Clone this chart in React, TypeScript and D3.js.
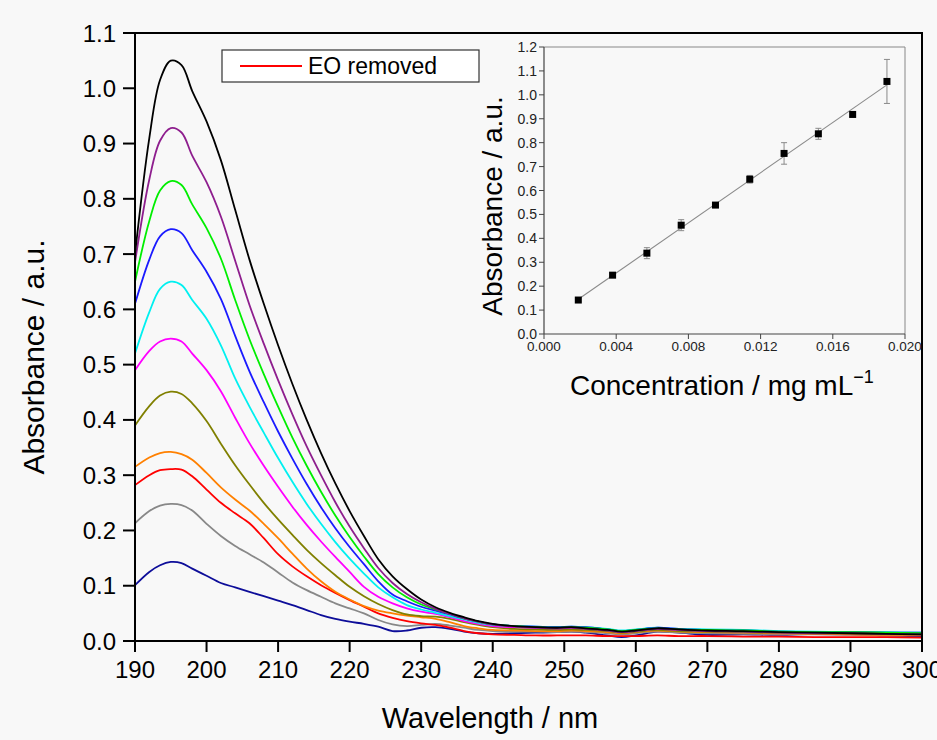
import React from "react";
import * as d3 from "d3";

// ---------- main spectra data ----------
const wavelengths = [190, 192, 193.5, 195, 196.5, 198, 200, 202, 204, 206, 208, 210, 212, 214, 216, 218, 220, 222, 224, 226, 228, 230, 232, 234, 236, 238, 240, 243, 246, 249, 251, 253, 256, 258, 260, 263, 266, 270, 275, 280, 285, 290, 295, 300];

const absBlack = [0.700, 0.910, 1.015, 1.050, 1.042, 0.995, 0.940, 0.870, 0.780, 0.690, 0.610, 0.535, 0.465, 0.400, 0.340, 0.285, 0.235, 0.190, 0.148, 0.117, 0.094, 0.075, 0.061, 0.051, 0.043, 0.036, 0.031, 0.027, 0.025, 0.024, 0.025, 0.023, 0.020, 0.017, 0.019, 0.023, 0.021, 0.019, 0.018, 0.016, 0.015, 0.014, 0.013, 0.012];
const absPurple = [0.685, 0.835, 0.905, 0.928, 0.920, 0.878, 0.830, 0.768, 0.688, 0.608, 0.538, 0.472, 0.410, 0.352, 0.300, 0.251, 0.207, 0.168, 0.132, 0.105, 0.085, 0.070, 0.058, 0.049, 0.041, 0.035, 0.030, 0.026, 0.024, 0.023, 0.024, 0.022, 0.019, 0.016, 0.018, 0.022, 0.020, 0.018, 0.017, 0.015, 0.014, 0.014, 0.013, 0.012];
const absGreen = [0.650, 0.760, 0.815, 0.832, 0.825, 0.790, 0.747, 0.692, 0.617, 0.546, 0.483, 0.424, 0.368, 0.317, 0.270, 0.227, 0.188, 0.153, 0.121, 0.097, 0.079, 0.066, 0.057, 0.049, 0.041, 0.035, 0.030, 0.027, 0.025, 0.024, 0.025, 0.024, 0.021, 0.018, 0.020, 0.023, 0.021, 0.020, 0.019, 0.017, 0.016, 0.016, 0.015, 0.014];
const absBlue = [0.610, 0.690, 0.732, 0.745, 0.738, 0.707, 0.668, 0.619, 0.552, 0.488, 0.432, 0.379, 0.330, 0.284, 0.242, 0.204, 0.170, 0.139, 0.108, 0.084, 0.072, 0.062, 0.055, 0.048, 0.041, 0.035, 0.030, 0.027, 0.026, 0.025, 0.026, 0.025, 0.021, 0.018, 0.020, 0.024, 0.022, 0.020, 0.019, 0.017, 0.016, 0.016, 0.015, 0.015];
const absCyan = [0.520, 0.595, 0.637, 0.650, 0.644, 0.617, 0.583, 0.535, 0.475, 0.424, 0.377, 0.331, 0.288, 0.248, 0.212, 0.179, 0.149, 0.122, 0.097, 0.079, 0.065, 0.057, 0.051, 0.045, 0.039, 0.033, 0.029, 0.027, 0.026, 0.025, 0.026, 0.025, 0.022, 0.019, 0.021, 0.024, 0.022, 0.021, 0.020, 0.018, 0.017, 0.016, 0.016, 0.015];
const absMagenta = [0.490, 0.525, 0.542, 0.547, 0.542, 0.520, 0.490, 0.452, 0.404, 0.358, 0.317, 0.279, 0.243, 0.210, 0.180, 0.152, 0.125, 0.098, 0.080, 0.068, 0.059, 0.053, 0.049, 0.043, 0.036, 0.031, 0.027, 0.025, 0.024, 0.023, 0.024, 0.023, 0.020, 0.017, 0.019, 0.022, 0.020, 0.019, 0.018, 0.016, 0.015, 0.015, 0.014, 0.014];
const absOlive = [0.390, 0.425, 0.444, 0.451, 0.447, 0.430, 0.398, 0.357, 0.318, 0.283, 0.250, 0.220, 0.192, 0.165, 0.141, 0.119, 0.098, 0.081, 0.067, 0.056, 0.048, 0.045, 0.044, 0.040, 0.034, 0.029, 0.025, 0.022, 0.021, 0.020, 0.021, 0.020, 0.018, 0.015, 0.017, 0.020, 0.018, 0.017, 0.016, 0.015, 0.014, 0.014, 0.013, 0.013];
const absOrange = [0.315, 0.332, 0.340, 0.342, 0.338, 0.328, 0.304, 0.278, 0.256, 0.236, 0.212, 0.186, 0.158, 0.131, 0.108, 0.089, 0.075, 0.063, 0.055, 0.050, 0.046, 0.043, 0.040, 0.034, 0.027, 0.023, 0.020, 0.019, 0.018, 0.018, 0.019, 0.018, 0.016, 0.014, 0.016, 0.019, 0.017, 0.016, 0.015, 0.014, 0.013, 0.012, 0.011, 0.011];
const absRed = [0.282, 0.300, 0.309, 0.311, 0.310, 0.298, 0.274, 0.250, 0.231, 0.213, 0.186, 0.157, 0.135, 0.117, 0.101, 0.087, 0.074, 0.062, 0.050, 0.042, 0.036, 0.032, 0.029, 0.024, 0.018, 0.014, 0.012, 0.011, 0.010, 0.010, 0.010, 0.010, 0.009, 0.009, 0.009, 0.010, 0.009, 0.009, 0.008, 0.008, 0.007, 0.007, 0.007, 0.006];
const absGray = [0.213, 0.235, 0.245, 0.248, 0.246, 0.236, 0.212, 0.190, 0.172, 0.157, 0.142, 0.124, 0.106, 0.092, 0.080, 0.068, 0.059, 0.050, 0.038, 0.030, 0.027, 0.029, 0.031, 0.028, 0.024, 0.020, 0.018, 0.017, 0.017, 0.016, 0.017, 0.016, 0.014, 0.012, 0.014, 0.017, 0.015, 0.014, 0.013, 0.012, 0.012, 0.011, 0.010, 0.010];
const absNavy = [0.101, 0.125, 0.137, 0.143, 0.141, 0.131, 0.118, 0.105, 0.097, 0.089, 0.081, 0.073, 0.065, 0.056, 0.047, 0.040, 0.035, 0.031, 0.026, 0.018, 0.019, 0.024, 0.025, 0.022, 0.017, 0.014, 0.013, 0.014, 0.015, 0.016, 0.017, 0.015, 0.010, 0.007, 0.010, 0.017, 0.015, 0.011, 0.012, 0.011, 0.013, 0.013, 0.010, 0.008];

const seriesList = [
  { name: "s10", color: "#000000", values: absBlack },
  { name: "s9", color: "#8e1e8e", values: absPurple },
  { name: "s8", color: "#00ee00", values: absGreen },
  { name: "s7", color: "#1a1aff", values: absBlue },
  { name: "s6", color: "#00f0f0", values: absCyan },
  { name: "s5", color: "#ff00ff", values: absMagenta },
  { name: "s4", color: "#808000", values: absOlive },
  { name: "s3", color: "#ff8000", values: absOrange },
  { name: "EO removed", color: "#ff0000", values: absRed },
  { name: "s2", color: "#888888", values: absGray },
  { name: "s1", color: "#0d0d99", values: absNavy },
];

const xTicks = [190, 200, 210, 220, 230, 240, 250, 260, 270, 280, 290, 300];
const yTicks = [0, 0.1, 0.2, 0.3, 0.4, 0.5, 0.6, 0.7, 0.8, 0.9, 1.0, 1.1];

// ---------- inset calibration data ----------
const concentrations = [0.0019, 0.0038, 0.0057, 0.0076, 0.0095, 0.0114, 0.0133, 0.0152, 0.0171, 0.0190];
const calAbs = [0.142, 0.246, 0.338, 0.455, 0.539, 0.647, 0.755, 0.837, 0.918, 1.056];
const calErr = [0.005, 0.006, 0.023, 0.023, 0.005, 0.016, 0.045, 0.023, 0.010, 0.092];
const insetXTicks = [0, 0.004, 0.008, 0.012, 0.016, 0.020];
const insetYTicks = [0, 0.1, 0.2, 0.3, 0.4, 0.5, 0.6, 0.7, 0.8, 0.9, 1.0, 1.1, 1.2];

const FONT = "'Liberation Sans', Arial, Helvetica, sans-serif";

export default function App() {
  const W = 937, H = 740;
  const x = d3.scaleLinear().domain([190, 300]).range([135, 922]);
  const y = d3.scaleLinear().domain([0, 1.1]).range([641, 33]);

  const line = d3
    .line<number>()
    .x((_, i) => x(wavelengths[i]))
    .y((d) => y(d))
    .curve(d3.curveCatmullRom.alpha(0.5));

  const ix = d3.scaleLinear().domain([0, 0.02]).range([544, 905]);
  const iy = d3.scaleLinear().domain([0, 1.2]).range([334, 47]);

  // least squares fit of calibration points
  const mx = d3.mean(concentrations) as number;
  const my = d3.mean(calAbs) as number;
  let sxy = 0, sxx = 0;
  concentrations.forEach((c, i) => {
    sxy += (c - mx) * (calAbs[i] - my);
    sxx += (c - mx) * (c - mx);
  });
  const slope = sxy / sxx;
  const intercept = my - slope * mx;
  const c0 = concentrations[0];
  const c1 = concentrations[concentrations.length - 1];

  return (
    <svg
      width={W}
      height={H}
      style={{ position: "absolute", left: 0, top: 0, display: "block", background: "#f8f8f8" }}
      fontFamily={FONT}
    >
      <rect x={0} y={0} width={W} height={H} fill="#f8f8f8" />

      {/* spectra */}
      <g fill="none" strokeWidth={1.8} strokeLinejoin="round">
        {seriesList
          .slice()
          .reverse()
          .map((s) => (
            <path key={s.name} d={line(s.values) || ""} stroke={s.color} />
          ))}
      </g>

      {/* main frame */}
      <rect x={135} y={33} width={922 - 135} height={641 - 33} fill="none" stroke="#000" strokeWidth={2} />

      {/* y axis ticks */}
      {yTicks.map((t) => (
        <g key={"y" + t}>
          <line x1={123} x2={135} y1={y(t)} y2={y(t)} stroke="#000" strokeWidth={2} />
          <text x={116} y={y(t)} textAnchor="end" dominantBaseline="central" fontSize={24} fill="#000">
            {t.toFixed(1)}
          </text>
        </g>
      ))}
      {/* x axis ticks */}
      {xTicks.map((t) => (
        <g key={"x" + t}>
          <line x1={x(t)} x2={x(t)} y1={641} y2={652} stroke="#000" strokeWidth={2} />
          <text x={x(t)} y={678} textAnchor="middle" fontSize={24} fill="#000">
            {t}
          </text>
        </g>
      ))}

      <text x={490} y={728} textAnchor="middle" fontSize={29} fill="#000">
        Wavelength / nm
      </text>
      <text transform="translate(44,357) rotate(-90)" textAnchor="middle" fontSize={30} fill="#000">
        Absorbance / a.u.
      </text>

      {/* legend */}
      <rect x={222} y={50} width={257} height={32} fill="#ffffff" stroke="#333" strokeWidth={1.2} />
      <line x1={240} x2={302} y1={66} y2={66} stroke="#ff0000" strokeWidth={2} />
      <text x={308} y={74} fontSize={23} fill="#000">
        EO removed
      </text>

      {/* inset */}
      <g>
        <line x1={544} x2={905} y1={47} y2={47} stroke="#888" strokeWidth={1} />
        <line x1={905} x2={905} y1={47} y2={334} stroke="#888" strokeWidth={1} />
        <line x1={544} x2={544} y1={47} y2={334} stroke="#444" strokeWidth={1.2} />
        <line x1={544} x2={905} y1={334} y2={334} stroke="#444" strokeWidth={1.2} />
        {insetYTicks.map((t) => (
          <g key={"iy" + t}>
            <line x1={539} x2={544} y1={iy(t)} y2={iy(t)} stroke="#444" strokeWidth={1} />
            <text x={537} y={iy(t)} textAnchor="end" dominantBaseline="central" fontSize={14} fill="#222">
              {t.toFixed(1)}
            </text>
          </g>
        ))}
        {insetXTicks.map((t) => (
          <g key={"ix" + t}>
            <line x1={ix(t)} x2={ix(t)} y1={334} y2={339} stroke="#444" strokeWidth={1} />
            <text x={ix(t)} y={351} textAnchor="middle" fontSize={13.5} fill="#222">
              {t.toFixed(3)}
            </text>
          </g>
        ))}
        {/* fit line */}
        <line
          x1={ix(c0)}
          y1={iy(intercept + slope * c0)}
          x2={ix(c1)}
          y2={iy(intercept + slope * c1)}
          stroke="#8a8a8a"
          strokeWidth={1.1}
        />
        {/* error bars */}
        {concentrations.map((c, i) => (
          <g key={"e" + i} stroke="#8a8a8a" strokeWidth={1}>
            <line x1={ix(c)} x2={ix(c)} y1={iy(calAbs[i] - calErr[i])} y2={iy(calAbs[i] + calErr[i])} />
            <line x1={ix(c) - 3} x2={ix(c) + 3} y1={iy(calAbs[i] - calErr[i])} y2={iy(calAbs[i] - calErr[i])} />
            <line x1={ix(c) - 3} x2={ix(c) + 3} y1={iy(calAbs[i] + calErr[i])} y2={iy(calAbs[i] + calErr[i])} />
          </g>
        ))}
        {/* markers */}
        {concentrations.map((c, i) => (
          <rect key={"m" + i} x={ix(c) - 3.5} y={iy(calAbs[i]) - 3.5} width={7} height={7} fill="#000" />
        ))}
        <text transform="translate(502,206) rotate(-90)" textAnchor="middle" fontSize={28} fill="#000">
          Absorbance / a.u.
        </text>
        <text x={570} y={395} fontSize={28} fill="#000">
          Concentration / mg mL
          <tspan fontSize={18} dy={-12}>
            −1
          </tspan>
        </text>
      </g>
    </svg>
  );
}
